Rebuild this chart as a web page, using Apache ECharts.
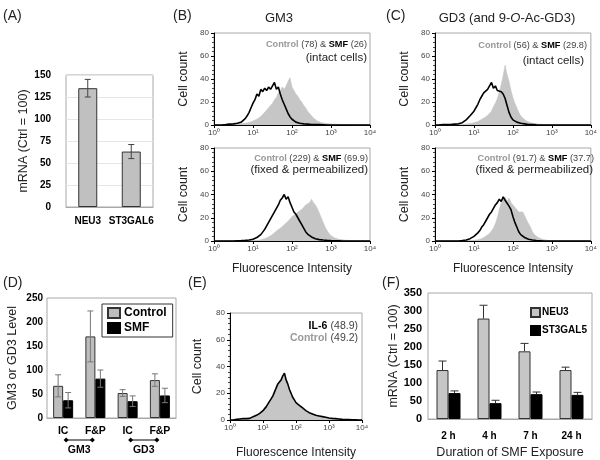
<!DOCTYPE html>
<html><head><meta charset="utf-8">
<script src="https://cdn.jsdelivr.net/npm/echarts@6/dist/echarts.min.js"></script>
<style>html,body{margin:0;padding:0;background:#fff}#c{width:600px;height:460px}</style>
</head><body><div id="c"></div>
<script>
// ---------------- DATA ----------------
// Panel A
const aCats = ['NEU3', 'ST3GAL6'];
const aVals = [135, 63];
const aErr = [10, 8];
const aTicks = [0, 25, 50, 75, 100, 125, 150];

// Histogram x tick labels (decades)
const decadeLabels = ['10⁰', '10¹', '10²', '10³', '10⁴'];
const histTicks = [0, 20, 40, 60, 80];

// Panel B top (GM3, intact cells) — counts per channel (81 channels, 4 decades)
const bTopCtrl = [0,0,0,0,0,0,0,0,0.3,0.3,
  0.5,0.5,0.7,0.8,1,1.2,1.5,1.8,2.2,2.8,
  3.5,4,5,6,7.5,9,11,12,15,17,
  19,22,24,28,30,33,31,34,38,41,
  33,30,27,25,22,20,17,15,12,10,
  8,6,4.5,3.5,2.5,2,1.5,1.5,1.2,1,
  1,0.8,0.8,0.6,0.5,0.5,0.4,0.3,0.3,0.2,
  0.2,0.1,0.1,0,0,0,0,0,0,0,
  0];
const bTopSMF = [0,0,0,0,0,0,0.3,0.5,0.8,0.5,
  1,0.8,1.5,1.2,2.5,3.5,5.5,8,11,15,
  19,22,27,25,31,29,32,30,33,31,
  34,37,31,33,27,22,18,14,10,7,
  5,3.5,2.5,2,1.5,1.2,1,1,0.8,0.6,
  0.5,0.6,0.4,0.3,0.3,0.2,0.2,0.1,0,0,
  0,0,0,0,0,0,0,0,0,0,
  0,0,0,0,0,0,0,0,0,0,
  0];
// Panel B bottom (GM3, fixed & permeabilized)
const bBotCtrl = [0,0,0,0,0,0,0,0,0,0,
  0,0,0,0,0,0,0,0,0.1,0.1,
  0.2,0.3,0.5,0.7,1,1.5,2,2.5,3.5,4.5,
  5.5,7,8.5,10,11,12,14,15,17,19,
  21,20,23,25,24,27,29,31,30,33,
  36,33,31,28,24,20,16,12,9,6.5,
  4.5,3.5,2.5,2,1.5,1.2,1,0.8,0.6,0.5,
  0.4,0.3,0.2,0.2,0.1,0,0,0,0,0,
  0];
const bBotSMF = [0,0,0,0,0,0,0,0,0,0,
  0,0,0.2,0.3,0.3,0.5,0.5,0.8,0.8,1,
  1.5,2,3,4,5.5,7,10,13,16,19,
  22,25,28,31,35,37,40,36,38,33,
  29,25,23,20,17,14,11,8,6,4.5,
  3.5,2.5,2,1.5,1.2,1,0.8,0.6,0.5,0.4,
  0.3,0.3,0.2,0.2,0.1,0,0,0,0,0,
  0,0,0,0,0,0,0,0,0,0,
  0];
// Panel C top (GD3, intact cells)
const cTopCtrl = [0,0,0,0,0,0,0,0,0,0,
  0,0,0.2,0.3,0.5,0.6,0.8,1,1.2,1.5,
  2,2.5,3,4,5,5.5,7,8,10,12,
  16,19,23,29,35,43,52,44,38,30,
  24,19,15,11,8,6,4.5,3.5,2.5,2,
  1.5,1.2,1,0.8,0.6,0.5,0.4,0.3,0.2,0.1,
  0,0,0,0,0,0,0,0,0,0,
  0,0,0,0,0,0,0,0,0,0,
  0];
const cTopSMF = [0,0,0,0.3,0.5,0.3,0.5,0.8,0.5,1,
  0.8,1.2,1,1.5,2,3,4.5,6,8,10,
  12,15,18,22,25,28,27,31,30,37,
  32,34,30,31,29,27,23,17,11,7,
  4.5,3,2.5,2,1.5,1.2,1,0.8,0.5,0.4,
  0.3,0.2,0.1,0,0,0,0,0,0,0,
  0,0,0,0,0,0,0,0,0,0,
  0,0,0,0,0,0,0,0,0,0,
  0];
// Panel C bottom (GD3, fixed & permeabilized)
const cBotCtrl = [0,0,0,0,0,0,0,0,0,0,
  0,0,0,0,0,0.1,0.2,0.2,0.3,0.4,
  0.5,0.8,1,1.5,2,3,4,5,6.5,8,
  11,15,20,27,33,36,38,34,37,33,
  31,29,27,25,24,25,22,18,15,12,
  8,5.5,4,3,2,1.5,1,0.8,0.5,0.3,
  0.2,0.1,0,0,0,0,0,0,0,0,
  0,0,0,0,0,0,0,0,0,0,
  0];
const cBotSMF = [0,0,0,0,0,0,0,0,0,0,
  0,0,0,0.2,0.3,0.5,0.8,1.2,2,3,
  4,5.5,7,9,12,14,17,20,23,25,
  28,31,33,36,34,38,35,36,30,27,
  21,16,12,8,5.5,4,3,2,1.5,1,
  0.8,0.5,0.4,0.3,0.2,0.1,0,0,0,0,
  0,0,0,0,0,0,0,0,0,0,
  0,0,0,0,0,0,0,0,0,0,
  0];
// Panel E (IL-6 vs Control)
const eCtrl = [0,0,0,0.2,0.3,0.4,0.5,0.6,0.7,0.8,
  1,1.2,1.5,1.8,2.2,2.8,3.3,4,4.8,5.8,
  7,8,9.5,11,13,15,17.5,20,23,26,
  27,29,31,33,29,26,22,19,16,14,
  12.5,11.5,10.5,9.5,8.5,7.5,6.8,6,5.3,4.8,
  4.3,3.8,3.4,3,2.7,2.4,2.1,1.9,1.7,1.5,
  1.2,1.1,1,0.9,0.8,0.7,0.6,0.5,0.5,0.4,
  0.3,0.3,0.2,0.2,0.1,0.1,0.1,0,0,0,
  0];
const eIL6 = [0,0,0,0.3,0.5,0.5,0.8,0.5,1,0.8,
  1,1.5,1.2,2,2.5,3,3.5,4,5,6,
  7,8.5,10,12,13,16,18,21,24,27,
  28,30,33,35,30,27,23,20,17,15,
  13,12,11,10,9,8,7,6,5.5,5,
  4.5,4,3.5,3.5,3,2.5,2.5,2,2,1.8,
  1.5,1.2,1.2,1,1,0.8,0.8,0.6,0.5,0.5,
  0.4,0.4,0.3,0.3,0.2,0.2,0.1,0.1,0,0,
  0];

// Panel D
const dCats = ['IC', 'F&P', 'IC', 'F&P'];
const dGroups = ['GM3', 'GD3'];
const dCtrl = [67, 170, 52, 79];
const dCtrlErr = [23, 53, 7, 13];
const dSMF = [37, 82, 35, 47];
const dSMFErr = [16, 18, 11, 15];
const dTicks = [0, 50, 100, 150, 200, 250];

// Panel F
const fCats = ['2 h', '4 h', '7 h', '24 h'];
const fNEU3 = [136, 279, 188, 136];
const fNEU3Err = [25, 37, 22, 8];
const fST3 = [72, 44, 69, 67];
const fST3Err = [6, 8, 6, 7];
const fTicks = [0, 50, 100, 150, 200, 250, 300, 350];

// ---------------- CHART ----------------
const FF = 'Liberation Sans, Arial, Helvetica, sans-serif';
const chart = echarts.init(document.getElementById('c'), null, {renderer: 'canvas'});
const channels = bTopCtrl.map((_, i) => 'ch' + i);
const step = (channels.length - 1) / (decadeLabels.length - 1);

function tickStep(t) { return t[1] - t[0]; }

const grids = [
  {left: 66, top: 75, width: 87, height: 132},    // 0 A
  {left: 214, top: 33, width: 156, height: 92},   // 1 B top
  {left: 214, top: 148, width: 156, height: 93},  // 2 B bottom
  {left: 435, top: 33, width: 156, height: 92},   // 3 C top
  {left: 435, top: 148, width: 156, height: 93},  // 4 C bottom
  {left: 47, top: 298, width: 129, height: 120},  // 5 D
  {left: 230, top: 313, width: 132, height: 107}, // 6 E
  {left: 428, top: 293, width: 164, height: 130}  // 7 F
].map(g => Object.assign({show: true, borderColor: '#a8a8a8', borderWidth: 1, backgroundColor: 'transparent', containLabel: false}, g));

function histX(gi, withName, gap) {
  return {
    gridIndex: gi, type: 'category', data: channels, boundaryGap: false,
    axisLine: {lineStyle: {color: '#000', width: 1}},
    axisTick: {interval: (i) => i % step === 0, length: 3, lineStyle: {color: '#000'}},
    axisLabel: {interval: (i) => i % step === 0, formatter: (v) => decadeLabels[parseInt(v.slice(2)) / step],
      fontSize: 8, color: '#444', fontFamily: FF, margin: 4},
    splitLine: {show: false},
    name: withName ? 'Fluorescence Intensity' : '', nameLocation: 'middle', nameGap: gap || 24,
    nameTextStyle: {fontSize: 12, color: '#222', fontFamily: FF}
  };
}
function histY(gi, gap) {
  return {
    gridIndex: gi, type: 'value', min: histTicks[0], max: histTicks[histTicks.length - 1], interval: tickStep(histTicks),
    axisLine: {show: true, lineStyle: {color: '#000', width: 1}},
    axisTick: {show: true, length: 3, lineStyle: {color: '#000'}},
    minorTick: {show: true, splitNumber: 5, length: 2, lineStyle: {color: '#444'}},
    splitLine: {show: false},
    axisLabel: {fontSize: 8, color: '#444', fontFamily: FF, margin: 5},
    name: 'Cell count', nameLocation: 'middle', nameRotate: 90, nameGap: gap || 24,
    nameTextStyle: {fontSize: 12.5, color: '#222', fontFamily: FF}
  };
}
function histSeries(gi, ctrl, smf) {
  return [
    {type: 'line', name: 'h' + gi + 'c', xAxisIndex: gi, yAxisIndex: gi, data: ctrl, symbol: 'none',
      lineStyle: {color: '#c6c6c6', width: 0.6}, areaStyle: {color: '#c6c6c6', opacity: 1}, z: 2, silent: true},
    {type: 'line', name: 'h' + gi + 's', xAxisIndex: gi, yAxisIndex: gi, data: smf, symbol: 'none',
      lineStyle: {color: '#000', width: 1.6}, z: 3, silent: true}
  ];
}
function errSeries(gi, vals, errs, offset, color, cap, upOnly) {
  return {
    type: 'custom', xAxisIndex: gi, yAxisIndex: gi, z: 5, silent: true,
    data: vals.map((v, i) => [i, v, errs[i]]),
    encode: {x: 0, y: 1},
    renderItem: (params, api) => {
      const i = api.value(0), v = api.value(1), e = api.value(2);
      const top = api.coord([i, v + e]);
      const bot = api.coord([i, upOnly ? v : v - e]);
      const x = top[0] + offset;
      const st = {stroke: color, lineWidth: 1};
      const ch = [
        {type: 'line', shape: {x1: x, y1: top[1], x2: x, y2: bot[1]}, style: st},
        {type: 'line', shape: {x1: x - cap, y1: top[1], x2: x + cap, y2: top[1]}, style: st}
      ];
      if (!upOnly) ch.push({type: 'line', shape: {x1: x - cap, y1: bot[1], x2: x + cap, y2: bot[1]}, style: st});
      return {type: 'group', children: ch};
    }
  };
}
function boldCatX(gi, data, margin, size) {
  return {gridIndex: gi, type: 'category', data: data,
    axisLine: {lineStyle: {color: '#a8a8a8'}}, axisTick: {show: false},
    axisLabel: {fontSize: size, fontWeight: 'bold', color: '#000', fontFamily: FF, margin: margin, interval: 0,
      formatter: (v) => v.split('#')[0]}};
}
function boldValY(gi, ticks, margin, size, name, gap, split) {
  return {gridIndex: gi, type: 'value', min: ticks[0], max: ticks[ticks.length - 1], interval: tickStep(ticks),
    axisLine: {show: false}, axisTick: {show: false},
    splitLine: {show: !!split, lineStyle: {color: '#e6e6e6'}},
    axisLabel: {fontSize: size, fontWeight: 'bold', color: '#000', fontFamily: FF, margin: margin},
    name: name, nameLocation: 'middle', nameRotate: 90, nameGap: gap,
    nameTextStyle: {fontSize: 12.5, color: '#222', fontFamily: FF}};
}

const xAxes = [
  boldCatX(0, aCats, 9, 10),
  histX(1, false), histX(2, true, 22),
  histX(3, false), histX(4, true, 22),
  boldCatX(5, dCats.map((c, i) => c + '#' + i), 8, 10.5),
  histX(6, true, 27),
  Object.assign(boldCatX(7, fCats, 12, 10), {name: 'Duration of SMF Exposure', nameLocation: 'middle', nameGap: 27,
    nameTextStyle: {fontSize: 12.5, color: '#222', fontFamily: FF}})
];
const yAxes = [
  boldValY(0, aTicks, 15, 10, 'mRNA (Ctrl = 100)', 34, true),
  histY(1, 24), histY(2, 24), histY(3, 24), histY(4, 24),
  boldValY(5, dTicks, 4, 10, 'GM3 or GD3 Level', 28, false),
  histY(6, 26),
  boldValY(7, fTicks, 6, 11, 'mRNA (Ctrl = 100)', 28, false)
];

const series = [
  {type: 'bar', name: 'A', xAxisIndex: 0, yAxisIndex: 0, data: aVals, barWidth: 19,
    itemStyle: {color: '#c0c0c0', borderColor: '#333', borderWidth: 1}},
  errSeries(0, aVals, aErr, 0, '#444', 3, false),
  ...histSeries(1, bTopCtrl, bTopSMF),
  ...histSeries(2, bBotCtrl, bBotSMF),
  ...histSeries(3, cTopCtrl, cTopSMF),
  ...histSeries(4, cBotCtrl, cBotSMF),
  {type: 'bar', name: 'Control', xAxisIndex: 5, yAxisIndex: 5, data: dCtrl, barWidth: 10, barGap: '0%',
    itemStyle: {color: '#bdbdbd', borderColor: '#333', borderWidth: 1}},
  {type: 'bar', name: 'SMF', xAxisIndex: 5, yAxisIndex: 5, data: dSMF, barWidth: 10, barGap: '0%',
    itemStyle: {color: '#000', borderColor: '#000', borderWidth: 1}},
  errSeries(5, dCtrl, dCtrlErr, -5, '#777', 3, false),
  errSeries(5, dSMF, dSMFErr, 5, '#777', 3, false),
  ...histSeries(6, eCtrl, eIL6),
  {type: 'bar', name: 'NEU3', xAxisIndex: 7, yAxisIndex: 7, data: fNEU3, barWidth: 12, barGap: '0%',
    itemStyle: {color: '#c6c6c6', borderColor: '#333', borderWidth: 1}},
  {type: 'bar', name: 'ST3GAL5', xAxisIndex: 7, yAxisIndex: 7, data: fST3, barWidth: 12, barGap: '0%',
    itemStyle: {color: '#000', borderColor: '#000', borderWidth: 1}},
  errSeries(7, fNEU3, fNEU3Err, -6, '#333', 4, true),
  errSeries(7, fST3, fST3Err, 6, '#333', 4, true)
];

const legends = [
  {data: ['Control', 'SMF'], left: 102, top: 304, orient: 'vertical', icon: 'rect', itemWidth: 12, itemHeight: 10,
    itemGap: 3, borderColor: '#333', borderWidth: 1, padding: [3, 6, 3, 5], selectedMode: false,
    textStyle: {fontFamily: FF, fontWeight: 'bold', fontSize: 12, color: '#000', padding: [0, 0, 0, -1]}},
  {data: ['NEU3', 'ST3GAL5'], left: 530, top: 307, orient: 'vertical', icon: 'rect', itemWidth: 9, itemHeight: 9,
    itemGap: 7, padding: 0, selectedMode: false,
    textStyle: {fontFamily: FF, fontWeight: 'bold', fontSize: 10, color: '#000', padding: [0, 0, 0, -3]}}
];

chart.setOption({
  animation: false,
  grid: grids, xAxis: xAxes, yAxis: yAxes, series: series, legend: legends
});

// ---------------- TEXT / ANNOTATIONS ----------------
function T(x, y, text, o) {
  return {type: 'text', x: x, y: y, silent: true, z: 50,
    style: Object.assign({text: text, fontFamily: FF, fontSize: 12, fill: '#000', align: 'left', verticalAlign: 'middle'}, o || {})};
}
function richAnn(size) {
  return {
    g: {fill: '#999', fontWeight: 'bold', fontSize: size, fontFamily: FF},
    n: {fill: '#444', fontSize: size, fontFamily: FF},
    b: {fill: '#000', fontWeight: 'bold', fontSize: size, fontFamily: FF}
  };
}
function ann(x, y, ctrlVal, smfVal) {
  return T(x, y, '{g|Control} {n|(' + ctrlVal + ')} {n|&} {b|SMF} {n|(' + smfVal + ')}',
    {align: 'right', rich: richAnn(9.2), fontSize: 9.2});
}
const g = [
  T(3, 16, '(A)', {fontSize: 14, fill: '#222'}),
  T(173, 16, '(B)', {fontSize: 14, fill: '#222'}),
  T(279, 18, 'GM3', {fontSize: 13, align: 'center', fill: '#222'}),
  T(386, 16, '(C)', {fontSize: 14, fill: '#222'}),
  T(507, 18, '{r|GD3 (and 9-}{i|O}{r|-Ac-GD3)}', {align: 'center', rich: {
    r: {fontSize: 13, fontFamily: FF, fill: '#222'}, i: {fontSize: 13, fontFamily: FF, fontStyle: 'italic', fill: '#222'}}}),
  T(3, 283, '(D)', {fontSize: 14, fill: '#222'}),
  T(188, 283, '(E)', {fontSize: 14, fill: '#222'}),
  T(382, 283, '(F)', {fontSize: 14, fill: '#222'}),
  ann(367, 44, 78, 26),
  T(367, 58, '(intact cells)', {align: 'right', fontSize: 11.5, fill: '#222'}),
  ann(368, 158, 229, 69.9),
  T(368, 170, '(fixed & permeabilized)', {align: 'right', fontSize: 11.5, fill: '#222'}),
  ann(587, 45, 56, 29.8),
  T(584, 61, '(intact cells)', {align: 'right', fontSize: 11.5, fill: '#222'}),
  ann(594, 158, 91.7, 37.7),
  T(593, 170, '(fixed & permeabilized)', {align: 'right', fontSize: 11.5, fill: '#222'}),
  T(358, 326, '{b|IL-6} {n|(48.9)}', {align: 'right', rich: richAnn(10.5)}),
  T(358, 338, '{g|Control} {n|(49.2)}', {align: 'right', rich: richAnn(10.5)})
];
// GM3 / GD3 group brackets under panel D, placed from the category positions
dGroups.forEach((name, k) => {
  const p0 = chart.convertToPixel({xAxisIndex: 5, yAxisIndex: 5}, [2 * k, 0]);
  const p1 = chart.convertToPixel({xAxisIndex: 5, yAxisIndex: 5}, [2 * k + 1, 0]);
  const y = p0[1] + 22, xa = p0[0] + 3, xb = p1[0] - 3, d = 2.5;
  g.push({type: 'line', silent: true, shape: {x1: xa, y1: y, x2: xb, y2: y}, style: {stroke: '#000', lineWidth: 1}});
  [xa, xb].forEach(x => g.push({type: 'polygon', silent: true,
    shape: {points: [[x - d, y], [x, y - d], [x + d, y], [x, y + d]]}, style: {fill: '#000'}}));
  g.push(T((xa + xb) / 2, y + 10, name, {align: 'center', fontSize: 10.5, fontWeight: 'bold'}));
});
chart.setOption({graphic: g});
</script></body></html>
